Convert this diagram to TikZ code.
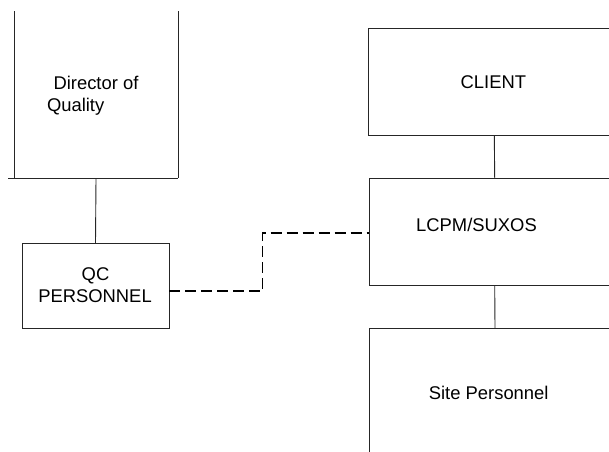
\documentclass[tikz,border=0pt]{standalone}
\usepackage{fontspec}
\setmainfont{Liberation Sans}
\begin{document}
\begin{tikzpicture}[x=1pt,y=-1pt,
    every node/.style={inner sep=0pt, outer sep=0pt},
    frame/.style={draw=black!85, line width=0.9pt},
    boxarea/.style={rectangle},
    caption/.style={anchor=base, font=\fontsize{18.4}{22}\selectfont},
    solidlink/.style={draw=black!85, line width=0.9pt},
    dashlink/.style={draw=black, line width=1.8pt, dash pattern=on 11pt off 5pt}]
  \useasboundingbox (0,0) rectangle (609,451);
  \clip (0,0) rectangle (609,451);

  % left column
  \node[boxarea, minimum width=164pt, minimum height=167pt] (dir) at (96,94.5) {};
  \draw[frame] (dir.north west) -- (dir.south west);
  \draw[frame] (dir.north east) -- (dir.south east);
  \draw[frame] ([xshift=-6pt]dir.south west) -- (dir.south east);
  \node[caption] (dirtxt) at (96,89) {Director of};
  \node[caption, anchor=base west] (dirtxt2) at (47,111) {Quality};

  \node[boxarea, frame, minimum width=147pt, minimum height=85pt] (qc) at (95.5,285.5) {};
  \node[caption] (qctxt) at (95.5,280) {QC};
  \node[caption] (qctxt2) at (95,302.7) {PERSONNEL};

  % right column (runs off the right edge)
  \node[boxarea, frame, minimum width=252.6pt, minimum height=107.5pt] (client) at (494.3,81.75) {};
  \node[caption] (clienttxt) at (493.4,88.3) {CLIENT};

  \node[boxarea, frame, minimum width=251.4pt, minimum height=106.7pt] (lcpm) at (494.7,231.65) {};
  \node[caption] (lcpmtxt) at (476.5,231.7) {LCPM/SUXOS};

  \node[boxarea, frame, minimum width=251.4pt, minimum height=141.7pt] (site) at (495,399.15) {};
  \node[caption] (sitetxt) at (488.7,399.3) {Site Personnel};

  % links
  \draw[solidlink] (dir.south) -- (qc.north);
  \draw[solidlink] (client.south) -- (lcpm.north);
  \draw[solidlink] (lcpm.south) -- (site.north);

  \coordinate (bend) at (262.5,232.7);
  \draw[dashlink] ([yshift=-5.5pt]qc.east) -| (bend) -- (bend -| lcpm.west);
\end{tikzpicture}
\end{document}
